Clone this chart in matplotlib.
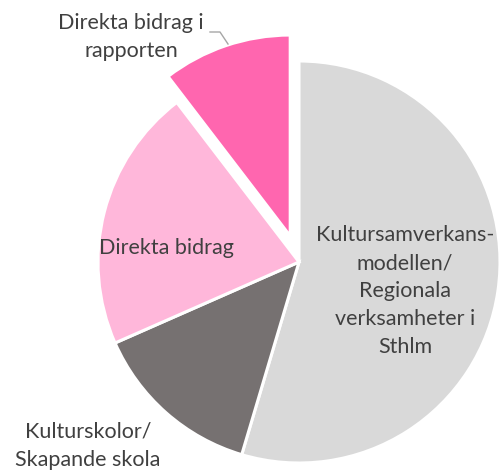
import matplotlib.pyplot as plt

categories = [
    "Kultursamverkans-\nmodellen/\nRegionala\nverksamheter i\nSthlm",
    "Kulturskolor/\nSkapande skola",
    "Direkta bidrag",
    "Direkta bidrag i\nrapporten",
]
shares = [54.6, 13.8, 21.2, 10.4]
colors = ["#D9D9D9", "#767171", "#FFB7DA", "#FF66AF"]
explode = [0, 0, 0, 0.137]

# label centres in pixel coordinates (from top-left), converted below
label_px = [(405, 291), (88, 446), (166, 248), (131, 37)]

cx, cy, r = 299, 262, 200
W, H = 499, 470

fig = plt.figure(figsize=(W / 100, H / 100), dpi=100)
ax = fig.add_axes([0, 0, 1, 1])
ax.pie(shares, colors=colors, explode=explode, startangle=90,
       counterclock=False, radius=1.005,
       wedgeprops=dict(edgecolor="white", linewidth=2.2))
ax.set_xlim(-cx / r, (W - cx) / r)
ax.set_ylim(-(H - cy) / r, cy / r)
ax.set_aspect("auto")
ax.axis("off")

for text, (px, py) in zip(categories, label_px):
    ax.text((px - cx) / r, (cy - py) / r, text, ha="center", va="center",
            fontsize=15.5, family="Lato", color="#404040", linespacing=1.5)

# leader line for the small exploded slice
lx = [(210 - cx) / r, (220 - cx) / r, (228 - cx) / r]
ly = [(cy - 32) / r, (cy - 32) / r, (cy - 44) / r]
ax.plot(lx, ly, color="#A6A6A6", linewidth=1)

fig.savefig("out.png", dpi=100)
